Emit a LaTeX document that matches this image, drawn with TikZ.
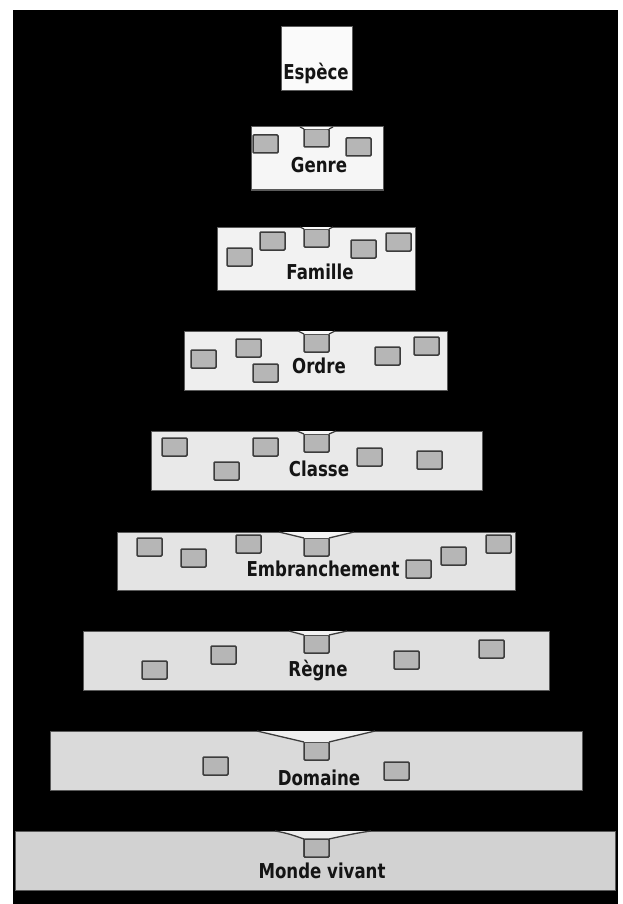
\documentclass[tikz,border=0pt]{standalone}
\usepackage{fontspec}
\newfontfamily\lblfont{DejaVu Sans}[FakeStretch=0.81]
\definecolor{cA}{HTML}{FAFAFA}
\definecolor{cB}{HTML}{F6F6F6}
\definecolor{cC}{HTML}{F2F2F2}
\definecolor{cD}{HTML}{EEEEEE}
\definecolor{cE}{HTML}{E9E9E9}
\definecolor{cF}{HTML}{E4E4E4}
\definecolor{cG}{HTML}{E0E0E0}
\definecolor{cH}{HTML}{DADADA}
\definecolor{cI}{HTML}{D2D2D2}
\definecolor{edgegray}{HTML}{5A5A5A}
\definecolor{boxfill}{HTML}{B6B6B6}
\definecolor{boxedge}{HTML}{3C3C3C}
\definecolor{txt}{HTML}{141414}
\tikzset{
  level/.style={draw=edgegray, line width=1pt, anchor=north west, inner sep=0pt, outer sep=0pt},
  sbox/.style={draw=boxedge, fill=boxfill, line width=1.5pt, rounded corners=1pt, anchor=north west,
    minimum width=25pt, minimum height=18pt, inner sep=0pt, outer sep=0pt},
  lbl/.style={font=\lblfont\bfseries\fontsize{20.5}{22}\selectfont, text=txt, anchor=base, inner sep=0pt},
  funnelline/.style={draw=boxedge, line width=1.3pt}
}
\newcommand{\lvl}[6]{% name, x1, y1, x2, y2, colour
  \pgfmathsetmacro{\lw}{#4-#2}\pgfmathsetmacro{\lh}{#5-#3}
  \node[level, fill=#6, minimum width=\lw pt, minimum height=\lh pt] (#1) at (#2,#3) {};}
\newcommand{\funnel}[5]{% box name, left x, right x, top y, colour
  \fill[#5!40!white] (#2,#4) -- (#1.north west) -- (#1.north east) -- (#3,#4) -- cycle;
  \draw[funnelline] (#2,#4) -- (#1.north west);
  \draw[funnelline] (#3,#4) -- (#1.north east);}
\begin{document}
\begin{tikzpicture}[x=1pt,y=-1pt]
\useasboundingbox (0,0) rectangle (622,904);
\fill[white] (0,0) rectangle (622,904);
\fill[black] (13,10) rectangle (618,904);

% Espece
\lvl{espece}{281}{27}{352}{91}{cA}
\node[lbl] (tespece) at (316,80) {Espèce};

% Genre
\lvl{genre}{251}{127}{383}{190}{cB}
\node[sbox] (g1) at (253,135) {};
\node[sbox] (g2) at (346,138) {};
\node[sbox] (g0) at (304,129) {};
\funnel{g0}{300}{333}{127}{cB}
\node[lbl] (tgenre) at (319,172) {Genre};

% Famille
\lvl{famille}{217}{227}{415}{290}{cC}
\node[sbox] (f1) at (227,248) {};
\node[sbox] (f2) at (260,232) {};
\node[sbox] (f3) at (351,240) {};
\node[sbox] (f4) at (386,233) {};
\node[sbox] (f0) at (304,229) {};
\funnel{f0}{300}{333}{227}{cC}
\node[lbl] (tfamille) at (320,279) {Famille};

% Ordre
\lvl{ordre}{184}{331}{447}{390}{cD}
\node[sbox] (o1) at (191,350) {};
\node[sbox] (o2) at (236,339) {};
\node[sbox] (o3) at (253,364) {};
\node[sbox] (o4) at (375,347) {};
\node[sbox] (o5) at (414,337) {};
\node[sbox] (o0) at (304,334) {};
\funnel{o0}{298}{335}{331}{cD}
\node[lbl] (tordre) at (319,373) {Ordre};

% Classe
\lvl{classe}{151}{431}{482}{490}{cE}
\node[sbox] (c1) at (162,438) {};
\node[sbox] (c2) at (214,462) {};
\node[sbox] (c3) at (253,438) {};
\node[sbox] (c4) at (357,448) {};
\node[sbox] (c5) at (417,451) {};
\node[sbox] (c0) at (304,434) {};
\funnel{c0}{297}{336}{431}{cE}
\node[lbl] (tclasse) at (319,476) {Classe};

% Embranchement
\lvl{embr}{117}{532}{515}{590}{cF}
\node[sbox] (e1) at (137,538) {};
\node[sbox] (e2) at (181,549) {};
\node[sbox] (e3) at (236,535) {};
\node[sbox] (e4) at (406,560) {};
\node[sbox] (e5) at (441,547) {};
\node[sbox] (e6) at (486,535) {};
\node[sbox] (e0) at (304,538) {};
\funnel{e0}{279}{354}{532}{cF}
\node[lbl] (tembr) at (323,576) {Embranchement};

% Regne
\lvl{regne}{83}{631}{549}{690}{cG}
\node[sbox] (r1) at (142,661) {};
\node[sbox] (r2) at (211,646) {};
\node[sbox] (r3) at (394,651) {};
\node[sbox] (r4) at (479,640) {};
\node[sbox] (r0) at (304,635) {};
\funnel{r0}{289}{347}{631}{cG}
\node[lbl] (tregne) at (318,676) {Règne};

% Domaine
\lvl{domaine}{50}{731}{582}{790}{cH}
\node[sbox] (d1) at (203,757) {};
\node[sbox] (d2) at (384,762) {};
\node[sbox] (d0) at (304,742) {};
\funnel{d0}{257}{375}{731}{cH}
\node[lbl] (tdomaine) at (319,785) {Domaine};

% Monde vivant
\lvl{monde}{15}{831}{615}{890}{cI}
\node[sbox] (m0) at (304,839) {};
\coordinate (ml) at (275,831);
\coordinate (mr) at (371,831);
\fill[cI!40!white] (ml) .. controls (288,833) and (298,837) .. (m0.north west) -- (m0.north east) .. controls (338,837) and (356,833) .. (mr) -- cycle;
\draw[funnelline] (ml) .. controls (288,833) and (298,837) .. (m0.north west);
\draw[funnelline] (mr) .. controls (356,833) and (338,837) .. (m0.north east);
\node[sbox] at (m0.north west) {};
\node[lbl] (tmonde) at (322,878) {Monde vivant};
\end{tikzpicture}
\end{document}
